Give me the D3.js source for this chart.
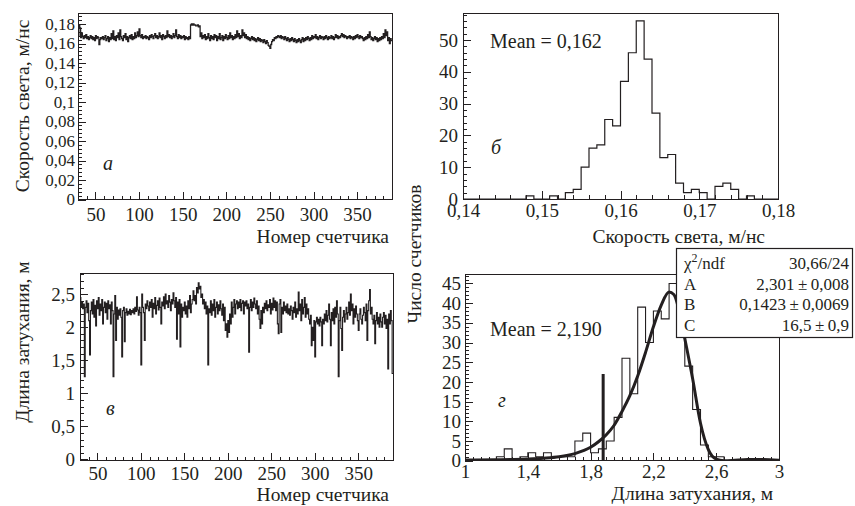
<!DOCTYPE html>
<html>
<head>
<meta charset="utf-8">
<script src="https://d3js.org/d3.v7.min.js"></script>
<style>
  body { margin: 0; background: #fff; }
  svg text { font-family: "Times New Roman", "Liberation Serif", Tinos, "Nimbus Roman", "Noto Serif", "DejaVu Serif", FreeSerif, serif; fill: #231f20; }
  .tick text { font-size: 19px; }
  .ya .tick text { font-size: 17px; }
  .tick line { stroke: #231f20; shape-rendering: crispEdges; }
  .domain { display: none; }
  .frame { fill: none; stroke: #231f20; stroke-width: 1; shape-rendering: crispEdges; }
  .title { font-size: 19.5px; }
  .note { font-size: 20px; }
  .letter { font-size: 20px; font-style: italic; }
  .stat { font-size: 17px; }
</style>
</head>
<body>
<script>
// counters 30..389, one value per counter
const counterFirst = 30;

// light speed per counter, m/ns
const speed = [
  0.168,0.179,0.176,0.166,0.171,0.167,0.165,0.168,0.166,0.169,
  0.165,0.167,0.164,0.166,0.168,0.165,0.167,0.164,0.166,0.163,
  0.168,0.165,0.167,0.166,0.159,0.164,0.166,0.165,0.167,0.164,
  0.166,0.168,0.163,0.165,0.167,0.162,0.166,0.164,0.170,0.165,
  0.173,0.164,0.167,0.163,0.168,0.166,0.171,0.164,0.174,0.167,
  0.165,0.163,0.168,0.166,0.170,0.164,0.167,0.162,0.166,0.168,
  0.165,0.169,0.164,0.167,0.165,0.171,0.166,0.168,0.172,0.167,
  0.175,0.168,0.166,0.169,0.165,0.167,0.166,0.168,0.165,0.167,
  0.166,0.164,0.168,0.166,0.169,0.167,0.165,0.168,0.170,0.166,
  0.168,0.165,0.167,0.171,0.166,0.168,0.164,0.169,0.167,0.165,
  0.168,0.166,0.173,0.167,0.169,0.166,0.168,0.165,0.167,0.170,
  0.166,0.168,0.174,0.167,0.165,0.169,0.166,0.168,0.165,0.167,
  0.166,0.168,0.164,0.167,0.165,0.166,0.164,0.167,0.165,0.179,
  0.180,0.179,0.180,0.179,0.179,0.178,0.178,0.179,0.177,0.178,
  0.167,0.171,0.165,0.168,0.166,0.169,0.164,0.167,0.165,0.170,
  0.166,0.163,0.168,0.165,0.167,0.164,0.169,0.166,0.168,0.163,
  0.167,0.165,0.170,0.164,0.166,0.168,0.163,0.167,0.165,0.169,
  0.166,0.164,0.168,0.165,0.171,0.166,0.168,0.164,0.167,0.165,
  0.169,0.166,0.173,0.167,0.170,0.165,0.168,0.166,0.174,0.168,
  0.171,0.166,0.169,0.165,0.167,0.164,0.166,0.163,0.165,0.167,
  0.164,0.166,0.163,0.165,0.162,0.164,0.166,0.163,0.165,0.162,
  0.164,0.163,0.161,0.164,0.162,0.160,0.163,0.161,0.158,0.157,
  0.155,0.159,0.162,0.164,0.163,0.166,0.165,0.167,0.166,0.168,
  0.167,0.166,0.168,0.165,0.167,0.166,0.164,0.167,0.165,0.163,
  0.166,0.164,0.162,0.165,0.163,0.166,0.164,0.162,0.165,0.163,
  0.161,0.164,0.162,0.165,0.163,0.161,0.164,0.166,0.162,0.165,
  0.163,0.166,0.164,0.167,0.165,0.163,0.166,0.164,0.168,0.165,
  0.167,0.166,0.169,0.165,0.167,0.164,0.166,0.168,0.165,0.167,
  0.166,0.164,0.167,0.165,0.168,0.166,0.164,0.167,0.165,0.166,
  0.168,0.165,0.167,0.164,0.166,0.169,0.166,0.168,0.165,0.167,
  0.166,0.168,0.170,0.167,0.169,0.166,0.168,0.167,0.165,0.167,
  0.166,0.168,0.165,0.167,0.166,0.164,0.167,0.165,0.168,0.166,
  0.169,0.167,0.165,0.168,0.166,0.167,0.165,0.163,0.166,0.164,
  0.167,0.165,0.169,0.166,0.172,0.167,0.164,0.166,0.163,0.165,
  0.167,0.164,0.166,0.162,0.165,0.163,0.166,0.164,0.167,0.165,
  0.170,0.166,0.174,0.168,0.172,0.163,0.166,0.160,0.165,0.163
];

// attenuation length per counter, m
const atten = [
  2.45,2.30,2.38,2.28,2.35,1.25,2.30,2.40,2.22,2.36,
  2.10,1.58,2.25,2.38,2.20,2.42,2.15,2.33,2.02,2.40,
  2.28,2.45,2.18,2.35,2.25,2.42,2.05,2.30,2.38,2.22,
  2.36,2.12,2.40,2.28,2.34,2.05,2.38,2.25,1.25,2.20,
  2.48,1.80,2.30,2.12,2.26,2.18,2.28,2.15,1.55,2.25,
  2.30,1.78,2.22,2.28,2.18,2.24,2.20,2.27,2.19,2.25,
  2.22,2.28,2.20,2.30,2.24,2.46,2.26,2.18,2.30,2.22,
  1.43,2.50,2.30,2.22,1.80,2.35,2.28,2.40,2.32,2.25,
  2.38,2.30,2.42,2.15,2.36,2.28,2.45,2.20,2.33,2.40,
  2.26,2.44,2.30,2.05,2.38,2.32,2.46,2.28,2.50,2.35,
  2.40,2.30,2.48,2.38,2.25,2.42,2.35,2.52,2.40,2.30,
  2.45,1.82,2.38,2.20,2.42,1.70,2.35,2.15,2.30,2.25,
  2.38,2.20,2.32,2.15,2.40,2.28,2.48,2.22,2.35,2.42,
  2.55,2.40,2.48,2.35,2.60,2.52,2.67,2.58,2.62,2.45,
  2.50,2.35,2.42,2.28,2.38,2.20,2.32,1.43,2.28,2.22,
  2.40,2.18,2.35,2.25,2.42,2.15,2.30,2.38,2.20,2.34,
  2.25,2.40,2.28,2.18,2.35,2.10,2.30,1.95,2.05,1.85,
  2.10,1.92,2.20,2.05,2.38,2.15,2.30,2.42,2.20,2.35,
  2.40,2.28,2.38,2.30,2.42,2.25,2.36,2.40,2.20,2.38,
  2.32,2.40,2.28,2.35,1.62,2.30,2.42,2.25,2.38,2.30,
  2.44,2.35,2.28,2.40,2.20,2.32,2.12,1.98,2.25,2.05,
  2.30,2.22,2.36,2.28,2.40,2.25,2.34,2.30,2.42,2.20,
  2.36,2.26,2.44,2.30,2.40,2.25,2.38,2.05,1.90,2.35,
  2.42,1.92,2.30,2.20,2.38,2.25,2.32,2.22,2.35,2.20,
  2.28,2.18,2.32,2.25,2.12,2.30,2.22,2.38,2.15,2.28,
  2.20,2.53,2.25,2.35,2.10,2.42,2.20,2.30,2.45,2.15,
  2.35,2.20,2.28,2.12,2.05,2.18,1.72,2.00,1.80,2.10,
  1.55,2.08,2.15,2.05,2.12,2.02,2.15,2.08,1.72,2.12,
  2.05,2.20,2.10,2.25,2.08,2.18,2.35,2.12,1.72,2.22,
  2.10,2.28,2.05,2.30,2.15,2.40,2.20,1.25,2.10,2.30,
  1.98,1.65,2.15,2.25,2.08,2.20,2.30,2.12,2.22,2.38,
  2.18,2.50,2.25,2.35,2.05,2.28,2.15,2.32,2.20,2.10,
  1.95,2.20,2.28,2.12,2.05,2.18,2.30,2.22,2.10,2.35,
  1.80,2.25,2.40,2.57,2.20,2.30,2.12,2.05,2.18,1.75,
  2.10,2.22,2.05,2.15,2.00,2.20,2.08,2.00,2.15,2.22,
  2.05,2.18,1.98,2.12,1.37,2.20,2.05,2.25,2.10,1.30
];

// histogram of speed: bins of 0.001 from 0.14
const speedBinStart = 0.14, speedBinWidth = 0.001;
const speedCounts = [0,0,0,0,0,0,0,0,1,0, 0,1,0,2,3,10,16,17,25,23,
                     37,46,56,44,27,13,14,5,2,3, 2,0,4,5,3,0,1,0,0,0];

// histogram of attenuation length: bins of 0.05 from 1
const attenBinStart = 1, attenBinWidth = 0.05;
const attenCounts = [0,0,0,0,1,3,0,1,2,1, 2,1,1,1,5,7,2,3,5,11,
                     26,17,39,30,38,36,45,40,24,13, 4,1,1,0,0,0,0,0,0,0];

// fit curve
const fitX = [1.0,1.2,1.4,1.5,1.6,1.7,1.8,1.85,1.9,1.95,2.0,2.05,2.1,2.15,2.2,2.25,2.3,2.33,2.37,2.4,2.45,2.5,2.55,2.6,2.65,2.7,2.8,2.9,3.0];
const fitY = [0.15,0.25,0.45,0.65,1.0,1.8,3.4,4.8,6.6,9.0,12.5,16.5,21.5,27.5,34,39.5,42.8,42.2,37,31,20.8,9.5,2.8,0.4,0.0,0.05,0.3,0.3,0.1];

const markerX = 1.88, markerH = 22;

const statNames = ["A", "B", "C"];
const statValues = ["2,301\u2009\u00b1\u20090,008", "0,1423\u2009\u00b1\u20090,0069", "16,5\u2009\u00b1\u20090,9"];
const chiText = "30,66/24";

const ticksSpeedY = [0,0.02,0.04,0.06,0.08,0.1,0.12,0.14,0.16,0.18];
const ticksCounter = [50,100,150,200,250,300,350];
const ticksSpeedX = [0.14,0.15,0.16,0.17,0.18];
const ticksCountB = [0,10,20,30,40,50];
const ticksAttenY = [0,0.5,1,1.5,2,2.5];
const ticksAttenX = [1,1.4,1.8,2.2,2.6,3];
const ticksCountG = [0,5,10,15,20,25,30,35,40,45];

const W = 855, H = 506;
const svg = d3.select("body").append("svg").attr("width", W).attr("height", H);
const fmt = d => String(+d.toFixed(4)).replace(".", ",");

function panel(o) {
  const g = svg.append("g");
  const x = d3.scaleLinear().domain(o.xDomain).range([o.left, o.right]);
  const y = d3.scaleLinear().domain(o.yDomain).range([o.bottom, o.top]);
  const xMinor = d3.range(Math.ceil(o.xDomain[0] / o.xMinor - 1e-6), Math.floor(o.xDomain[1] / o.xMinor + 1e-6) + 1).map(k => k * o.xMinor);
  const yMinor = d3.range(Math.ceil(o.yDomain[0] / o.yMinor - 1e-6), Math.floor(o.yDomain[1] / o.yMinor + 1e-6) + 1).map(k => k * o.yMinor);
  g.append("g").attr("transform", `translate(0,${o.bottom})`)
    .call(d3.axisBottom(x).tickValues(xMinor).tickSize(-4).tickFormat(""));
  g.append("g").attr("transform", `translate(0,${o.bottom})`)
    .call(d3.axisBottom(x).tickValues(o.xTicks).tickSize(-8).tickPadding(o.xPad).tickFormat(fmt));
  g.append("g").attr("transform", `translate(${o.left},0)`)
    .call(d3.axisLeft(y).tickValues(yMinor).tickSize(-4).tickFormat(""));
  g.append("g").attr("class", "y" + o.id).attr("transform", `translate(${o.left},0)`)
    .call(d3.axisLeft(y).tickValues(o.yTicks).tickSize(-8).tickPadding(o.yPad).tickFormat(fmt));
  const id = "clip" + o.id;
  svg.append("clipPath").attr("id", id).append("rect")
    .attr("x", o.left).attr("y", o.top).attr("width", o.right - o.left).attr("height", o.bottom - o.top);
  const data = g.append("g").attr("clip-path", `url(#${id})`);
  g.append("rect").attr("class", "frame")
    .attr("x", o.left).attr("y", o.top).attr("width", o.right - o.left).attr("height", o.bottom - o.top);
  return { g, data, x, y };
}

function stepPoints(values, start, step) {
  const pts = values.map((v, i) => [start + i * step, v]);
  pts.push([start + values.length * step, values[values.length - 1]]);
  return pts;
}
function histPoints(counts, start, width) {
  return [[start, 0]].concat(stepPoints(counts, start, width), [[start + counts.length * width, 0]]);
}

// panel a
const pa = panel({ id: "a", left: 78, right: 392, top: 13, bottom: 199.5,
  xDomain: [30, 390], yDomain: [0, 0.1913], xTicks: ticksCounter, yTicks: ticksSpeedY,
  xMinor: 10, yMinor: 0.004, xPad: 8, yPad: 3 });
pa.data.append("path")
  .attr("d", d3.line().x(d => pa.x(d[0])).y(d => pa.y(d[1])).curve(d3.curveStepAfter)(stepPoints(speed, counterFirst, 1)))
  .attr("fill", "none").attr("stroke", "#231f20").attr("stroke-width", 1.3);
svg.append("text").attr("class", "letter").attr("x", 103).attr("y", 170).text("а");
svg.append("text").attr("class", "title").attr("x", 389).attr("y", 243).attr("text-anchor", "end").text("Номер счетчика");
svg.append("text").attr("class", "title").attr("transform", "translate(29,106) rotate(-90)").attr("text-anchor", "middle").text("Скорость света, м/нс");

// panel б
const pb = panel({ id: "b", left: 463, right: 778, top: 13, bottom: 199,
  xDomain: [0.14, 0.18], yDomain: [0, 58.5], xTicks: ticksSpeedX, yTicks: ticksCountB,
  xMinor: 0.002, yMinor: 2, xPad: 5, yPad: 5 });
pb.data.append("path")
  .attr("d", d3.line().x(d => pb.x(d[0])).y(d => pb.y(d[1])).curve(d3.curveStepAfter)(histPoints(speedCounts, speedBinStart, speedBinWidth)))
  .attr("fill", "none").attr("stroke", "#231f20").attr("stroke-width", 1.2);
svg.append("text").attr("class", "note").attr("x", 490).attr("y", 48).text("Mean = 0,162");
svg.append("text").attr("class", "letter").attr("x", 491).attr("y", 154).text("б");
svg.append("text").attr("class", "title").attr("x", 765).attr("y", 243).attr("text-anchor", "end").text("Скорость света, м/нс");

// panel в
const pc = panel({ id: "c", left: 80, right: 393, top: 273, bottom: 460.7,
  xDomain: [30, 390], yDomain: [-0.02, 2.82], xTicks: ticksCounter, yTicks: ticksAttenY,
  xMinor: 10, yMinor: 0.1, xPad: 6, yPad: 5 });
pc.data.append("path")
  .attr("d", d3.line().x(d => pc.x(d[0])).y(d => pc.y(d[1])).curve(d3.curveStepAfter)(stepPoints(atten, counterFirst, 1)))
  .attr("fill", "none").attr("stroke", "#231f20").attr("stroke-width", 1.1);
svg.append("text").attr("class", "letter").attr("x", 106).attr("y", 415).text("в");
svg.append("text").attr("class", "title").attr("x", 389).attr("y", 501).attr("text-anchor", "end").text("Номер счетчика");
svg.append("text").attr("class", "title").attr("transform", "translate(29,342) rotate(-90)").attr("text-anchor", "middle").text("Длина затухания, м");

// panel г
const pd = panel({ id: "d", left: 465, right: 779, top: 274, bottom: 460.7,
  xDomain: [1, 3], yDomain: [0, 47.4], xTicks: ticksAttenX, yTicks: ticksCountG,
  xMinor: 0.05, yMinor: 1, xPad: 4, yPad: 4 });
pd.data.append("path")
  .attr("d", d3.line().x(d => pd.x(d[0])).y(d => pd.y(d[1])).curve(d3.curveStepAfter)(histPoints(attenCounts, attenBinStart, attenBinWidth)))
  .attr("fill", "none").attr("stroke", "#231f20").attr("stroke-width", 1.1);
pd.data.append("path")
  .attr("d", d3.line().x((d, i) => pd.x(fitX[i])).y(d => pd.y(d)).curve(d3.curveMonotoneX)(fitY))
  .attr("fill", "none").attr("stroke", "#231f20").attr("stroke-width", 3);
pd.data.append("line")
  .attr("x1", pd.x(markerX)).attr("x2", pd.x(markerX))
  .attr("y1", pd.y(0)).attr("y2", pd.y(markerH))
  .attr("stroke", "#231f20").attr("stroke-width", 3);
svg.append("text").attr("class", "note").attr("x", 490).attr("y", 336).text("Mean = 2,190");
svg.append("text").attr("class", "letter").attr("x", 498).attr("y", 407).text("г");
svg.append("text").attr("class", "title").attr("x", 773).attr("y", 500).attr("text-anchor", "end").text("Длина затухания, м");
svg.append("text").attr("class", "title").attr("transform", "translate(421,254) rotate(-90)").attr("text-anchor", "middle").text("Число счетчиков");

// stats box
const box = svg.append("g");
box.append("rect").attr("x", 676.5).attr("y", 248.5).attr("width", 176).attr("height", 89)
  .attr("fill", "#fff").attr("stroke", "#231f20").attr("stroke-width", 1.2);
const chi = box.append("text").attr("class", "stat").attr("x", 684).attr("y", 269);
chi.append("tspan").text("χ");
chi.append("tspan").attr("dy", -7).attr("font-size", 12).text("2");
chi.append("tspan").attr("dy", 7).text("/ndf");
box.append("text").attr("class", "stat").attr("x", 849).attr("y", 269).attr("text-anchor", "end").text(chiText);
statNames.forEach((n, i) => {
  box.append("text").attr("class", "stat").attr("x", 684).attr("y", 290 + i * 20.3).text(n);
  box.append("text").attr("class", "stat").attr("x", 849).attr("y", 290 + i * 20.3).attr("text-anchor", "end").text(statValues[i]);
});
</script>
</body>
</html>
